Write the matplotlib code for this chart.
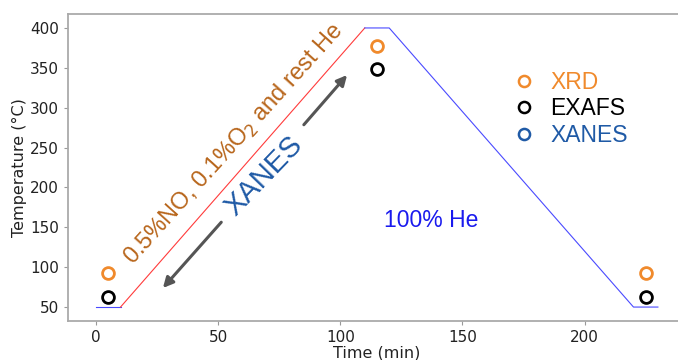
import matplotlib.pyplot as plt
from matplotlib.lines import Line2D

# temperature programme: (time in min, temperature in C)
he_start_t = [0, 10]
he_start_T = [50, 50]
ramp_t = [10, 110]
ramp_T = [50, 400]
he_end_t = [110, 120, 220, 230]
he_end_T = [400, 400, 50, 50]

# measurement points
meas_t = [5, 115, 225]
xrd_T = [93, 378, 93]
exafs_T = [63, 348, 63]

orange = '#f08a2c'
dark_blue = '#1f5aa6'
brown = '#b8661c'

fig = plt.figure(figsize=(6.78, 3.6), dpi=100)
ax = fig.add_axes([0.1003, 0.1083, 0.9115, 0.8528])

ax.plot(he_start_t, he_start_T, color='#4a4aff', lw=0.8)
ax.plot(ramp_t, ramp_T, color='#ff3b3b', lw=0.8)
ax.plot(he_end_t, he_end_T, color='#4a4aff', lw=0.8)

ax.plot(meas_t, xrd_T, 'o', ms=8.5, mfc='none', mec=orange, mew=2)
ax.plot(meas_t, exafs_T, 'o', ms=8.5, mfc='none', mec='black', mew=2)

ax.set_xticks([0, 50, 100, 150, 200])
ax.set_yticks([50, 100, 150, 200, 250, 300, 350, 400])
ax.set_xlabel('Time (min)', fontsize=11.5, color='#222222', labelpad=0)
ax.set_ylabel('Temperature (°C)', fontsize=11.5, color='#222222', labelpad=2)
ax.tick_params(labelsize=11, colors='#222222', color='#999999', length=3)
for s in ax.spines.values():
    s.set_color('#aaaaaa')
    s.set_linewidth(1.3)

arial = 'Liberation Sans'
ax.text(56.4, 254.5, '0.5%NO, 0.1%O$_2$ and rest He', rotation=48,
        rotation_mode='anchor', ha='center', va='center', fontsize=17,
        color=brown, family=arial)
ax.text(68.7, 214, 'XANES', rotation=46, rotation_mode='anchor',
        ha='center', va='center', fontsize=21, color=dark_blue, family=arial)
ax.text(137, 159, '100% He', ha='center', va='center', fontsize=16.5,
        color='#1a1aee', family=arial)

arrow = dict(arrowstyle='-|>,head_length=0.6,head_width=0.3', color='#555555', lw=2.2)
ax.annotate('', xy=(26.6, 71.3), xytext=(52, 159), arrowprops=arrow)
ax.annotate('', xy=(103.5, 343.6), xytext=(84.3, 276), arrowprops=arrow)

handles = [
    Line2D([], [], ls='none', marker='o', ms=8, mfc='none', mec=orange, mew=1.8),
    Line2D([], [], ls='none', marker='o', ms=8, mfc='none', mec='black', mew=1.8),
    Line2D([], [], ls='none', marker='o', ms=8, mfc='none', mec=dark_blue, mew=1.8),
]
leg = ax.legend(handles, ['XRD', 'EXAFS', 'XANES'], loc='upper left',
                bbox_to_anchor=(0.686, 0.883), frameon=False,
                prop={'family': arial, 'size': 16.5}, handletextpad=0.65,
                handlelength=1.0, labelspacing=0.17)
for txt, c in zip(leg.get_texts(), [orange, 'black', dark_blue]):
    txt.set_color(c)

fig.savefig('out.png', dpi=100)
